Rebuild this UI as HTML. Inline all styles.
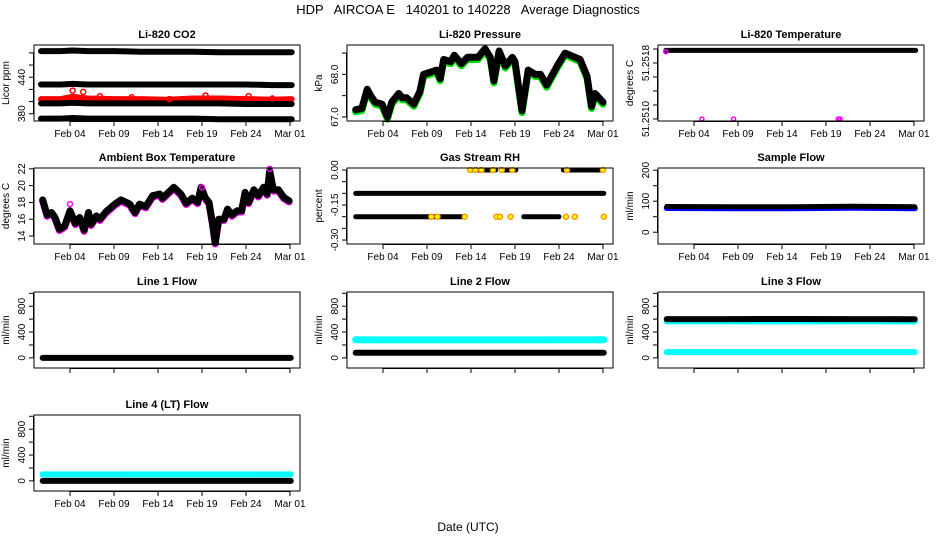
<!DOCTYPE html>
<html><head><meta charset="utf-8">
<style>
html,body{margin:0;padding:0;background:#fff;}
svg{display:block;font-family:"Liberation Sans",sans-serif;}
</style></head>
<body>
<svg id="chart" width="936" height="540" viewBox="0 0 936 540" xmlns="http://www.w3.org/2000/svg">
<text x="468" y="14" text-anchor="middle" font-size="13" style="white-space:pre" xml:space="preserve">HDP   AIRCOA E   140201 to 140228   Average Diagnostics</text>
<text x="468" y="531" text-anchor="middle" font-size="12">Date (UTC)</text>
</svg>
<script>
// ---- data ----
const xTickDays = [4, 9, 14, 19, 24, 29];
const xTickLabels = ["Feb 04", "Feb 09", "Feb 14", "Feb 19", "Feb 24", "Mar 01"];

const co2Days = [0.7, 3, 4.3, 6, 9, 12, 15, 18, 21, 24, 27, 29.2];
const co2Top = [483, 483, 484, 483, 483, 482, 482, 482, 481, 481, 481, 481];
const co2Mid = [428, 428, 429, 428, 428, 428, 428, 428, 428, 428, 427, 427];
const co2Low = [397, 397, 398, 397, 397, 397, 397, 397, 397, 396, 396, 396];
const co2Bot = [372, 372, 373, 372, 372, 372, 372, 372, 371, 371, 371, 371];
const co2Red = [404, 404, 408, 405, 404, 404, 403, 405, 405, 404, 403, 404];
const co2RedPtDays = [4.3, 5.5, 7.4, 11, 15.3, 19.4, 24.3, 27];
const co2RedPtVals = [418, 416, 409, 407, 404, 410, 409, 405];

const presDays = [0.9,1.6,2,2.2,2.6,3.1,3.9,4.5,5,5.8,6.2,6.7,7.5,8.2,8.6,10.1,10.5,10.9,11.7,12.1,12.9,13.6,14.8,15.6,16.2,16.6,17.2,17.9,18.7,19,19.8,20.5,21.3,21.9,22.6,23.8,24.7,26.4,27.2,27.7,28.1,29];
const presVals = [67.17,67.2,67.5,67.65,67.5,67.35,67.3,67.0,67.35,67.55,67.45,67.45,67.3,67.6,68.0,68.1,67.9,68.35,68.3,68.45,68.25,68.4,68.4,68.6,68.4,67.85,68.55,68.2,68.4,68.3,67.15,68.1,68.0,68.0,67.75,68.2,68.5,68.35,67.95,67.25,67.55,67.35];

const tempDays = [0.8, 29.2];
const tempVals = [51.25198, 51.25198];
const tempPtDays = [0.8, 4.9, 8.5, 20.4, 20.6];
const tempPtVals = [51.25196, 51.2510, 51.2510, 51.2510, 51.2510];

const ambDays = [0.9,1.4,1.9,2.3,2.8,3.4,4.0,4.6,5.1,5.6,6.1,6.4,7.0,7.4,8.1,9.1,9.8,10.8,11.4,11.9,12.6,13.4,14.2,14.5,15.3,15.8,16.6,17.2,17.9,18.5,18.9,19.4,19.8,20.2,20.5,20.9,21.5,21.9,22.4,23.0,23.5,23.9,24.3,24.9,25.4,26.0,26.4,26.7,27.1,27.7,28.3,28.9];
const ambVals = [18.3,16.5,16.8,16.2,14.8,15.2,17.0,15.5,16.2,14.7,16.8,15.4,16.4,16.0,16.9,17.8,18.3,17.8,16.8,17.8,17.5,18.8,19.0,18.5,19.3,19.8,19.0,17.9,18.5,18.0,19.8,18.5,18.0,15.5,13.2,16.0,16.0,17.2,16.5,17.0,17.0,19.2,18.0,19.5,18.8,19.8,19.0,21.8,19.5,19.5,18.6,18.2];
const ambPtDays = [4.0, 19.0, 26.7];
const ambPtVals = [17.8, 19.8, 22.0];

const rhFullStart = [0.9];
const rhFullEnd = [29.1];
const rhFullVal = [-0.1];
const rhLowStart = [0.9, 20.0];
const rhLowEnd = [13.1, 24.0];
const rhZeroStart = [14.0, 17.8, 24.5];
const rhZeroEnd = [16.8, 19.1, 29.0];
const rhPtDays = [13.9, 14.5, 15.2, 16.5, 17.5, 18.7, 24.9, 29.0, 9.5, 10.2, 13.3, 16.9, 17.3, 18.5, 24.8, 25.8, 29.1];
const rhPtVals = [0, 0, 0, 0, 0, 0, 0, 0, -0.2, -0.2, -0.2, -0.2, -0.2, -0.2, -0.2, -0.2, -0.2];

const flowDays = [0.9, 8, 15, 22, 29.1];
const sampleBlack = [83, 82, 82, 84, 82];
const sampleBlue = [78, 77, 77, 79, 77];
const line1Black = [0, 0, 0, 0, 0];
const line2Cyan = [280, 278, 278, 278, 280];
const line2Black = [80, 80, 80, 80, 80];
const line3Black = [600, 600, 602, 600, 598];
const line3CyanHi = [565, 565, 565, 565, 565];
const line3CyanLo = [90, 90, 90, 90, 90];
const line4Cyan = [100, 100, 100, 100, 100];
const line4Black = [0, 0, 0, 0, 0];

// ---- layout ----
const NS = "http://www.w3.org/2000/svg";
const svg = document.getElementById("chart");
const colLeft = [34, 347, 658];
const rowTop = [45, 168, 292, 415];
const W = 266, H = 76;
const D0 = -0.09, D1 = 30.14;

function mk(tag, attrs, parent) {
  const e = document.createElementNS(NS, tag);
  for (const k in attrs) e.setAttribute(k, attrs[k]);
  (parent || svg).appendChild(e);
  return e;
}

function panel(col, row, title, ylab, y0, y1, yTicks, yLabels, name) {
  const L = colLeft[col], T = rowTop[row];
  const g = mk("g", {});
  
  
  const xs = d => L + (d - D0) / (D1 - D0) * W;
  const ys = v => T + H - (v - y0) / (y1 - y0) * H;
  const t = mk("text", {x: L + W / 2, y: T - 7, "text-anchor": "middle", "font-size": 11, "font-weight": "bold"}, g);
  t.textContent = title;
  
  
  const yl = mk("text", {x: 0, y: 0, "text-anchor": "middle", "font-size": 10, transform: `translate(${L - 25},${T + H / 2}) rotate(-90)`}, g);
  yl.textContent = ylab;
  
  
  const plot = mk("g", {}, g);
  
  
  const box = mk("rect", {x: L, y: T, width: W, height: H, fill: "none", stroke: "#000", "stroke-width": 1}, g);
  
  
  const yt = yTicks.map(ys);
  mk("line", {x1: L - 0.5, x2: L - 0.5, y1: Math.min(...yt), y2: Math.max(...yt), stroke: "#000"}, g);
  yTicks.forEach((v, i) => {
    const y = ys(v);
    mk("line", {x1: L - 5, x2: L, y1: y, y2: y, stroke: "#000"}, g);
    if (yLabels[i] !== "") {
      const tl = mk("text", {x: 0, y: 0, "text-anchor": "middle", "font-size": 10, transform: `translate(${L - 9},${y}) rotate(-90)`}, g);
      tl.textContent = yLabels[i];
      
      
    }
  });
  mk("line", {x1: xs(xTickDays[0]), x2: xs(xTickDays[xTickDays.length - 1]), y1: T + H + 0.5, y2: T + H + 0.5, stroke: "#000"}, g);
  xTickDays.forEach((d, i) => {
    const x = xs(d);
    mk("line", {x1: x, x2: x, y1: T + H, y2: T + H + 5, stroke: "#000"}, g);
    if (row !== 2) {
      const tl = mk("text", {x: x, y: T + H + 16, "text-anchor": "middle", "font-size": 10}, g);
      tl.textContent = xTickLabels[i];
      
      
    }
  });
  return {xs, ys, plot};
}

function band(p, days, vals, color, w, nm) {
  const pts = days.map((d, i) => p.xs(d).toFixed(1) + "," + p.ys(vals[i]).toFixed(1)).join(" ");
  const e = mk("polyline", {points: pts, fill: "none", stroke: color, "stroke-width": w, "stroke-linejoin": "round", "stroke-linecap": "round"}, p.plot);
  
  
}
function pts(p, days, vals, color, r, nm, fill) {
  days.forEach((d, i) => {
    const c = mk("circle", {cx: p.xs(d), cy: p.ys(vals[i]), r: r, fill: fill || "none", stroke: color, "stroke-width": 1.5}, p.plot);
    
    
  });
}
function segs(p, starts, ends, v, color, w, nm) {
  starts.forEach((s, i) => {
    const e = mk("line", {x1: p.xs(s), x2: p.xs(ends[i]), y1: p.ys(v), y2: p.ys(v), stroke: color, "stroke-width": w, "stroke-linecap": "round"}, p.plot);
    
    
  });
}

let p = panel(0, 0, "Li-820 CO2", "Licor ppm", 368, 493, [380, 400, 420, 440, 460, 480], ["380", "", "", "440", "", ""], "co2");
band(p, co2Days, co2Top, "#000", 6, "co2-band-high");
band(p, co2Days, co2Mid, "#000", 6, "co2-band-mid");
band(p, co2Days, co2Red, "#f00", 6, "co2-red-series");
band(p, co2Days, co2Low, "#000", 6, "co2-band-low");
band(p, co2Days, co2Bot, "#000", 6, "co2-band-bottom");
pts(p, co2RedPtDays, co2RedPtVals, "#f00", 2.5, "co2-red-point");

p = panel(1, 0, "Li-820 Pressure", "kPa", 66.905, 68.69, [67.0, 67.5, 68.0, 68.5], ["67.0", "", "68.0", ""], "pressure");
band(p, presDays, presVals.map(v => v - 0.05), "#0d0", 7, "pressure-green-series");
band(p, presDays, presVals, "#000", 7, "pressure-black-series");

p = panel(2, 0, "Li-820 Temperature", "degrees C", 51.250971, 51.252057, [51.2510, 51.2512, 51.2514, 51.2516, 51.2518, 51.2520], ["51.2510", "", "", "", "51.2518", ""], "temperature");
band(p, tempDays, tempVals, "#000", 5, "temperature-series");
pts(p, tempPtDays, tempPtVals, "#f0f", 2, "temperature-magenta-point");

p = panel(0, 1, "Ambient Box Temperature", "degrees C", 13.05, 22.1, [14, 16, 18, 20, 22], ["14", "16", "18", "20", "22"], "ambient");
band(p, ambDays, ambVals.map(v => v - 0.15), "#f0f", 7, "ambient-magenta-series");
band(p, ambDays, ambVals, "#000", 7, "ambient-black-series");
pts(p, ambPtDays, ambPtVals, "#f0f", 2.5, "ambient-magenta-point");

p = panel(1, 1, "Gas Stream RH", "percent", -0.317, 0.0086, [0, -0.05, -0.1, -0.15, -0.2, -0.25, -0.3], ["0.00", "", "", "-0.15", "", "", "-0.30"], "rh");
segs(p, rhFullStart, rhFullEnd, rhFullVal[0], "#000", 5, "rh-band-mid");
segs(p, rhLowStart, rhLowEnd, -0.2, "#000", 5, "rh-band-low");
segs(p, rhZeroStart, rhZeroEnd, 0, "#000", 5, "rh-band-zero");
pts(p, rhPtDays, rhPtVals, "#f90", 2.5, "rh-orange-point", "#ff0");

p = panel(2, 1, "Sample Flow", "ml/min", -38, 207, [0, 50, 100, 150, 200], ["0", "", "100", "", "200"], "sample-flow");
band(p, flowDays, sampleBlue, "#00f", 6, "sample-flow-blue-series");
band(p, flowDays, sampleBlack, "#000", 5, "sample-flow-black-series");

const flowTicks = [0, 200, 400, 600, 800, 1000];
const flowLabels = ["0", "", "400", "", "800", ""];
p = panel(0, 2, "Line 1 Flow", "ml/min", -157, 1020, flowTicks, flowLabels, "line1-flow");
band(p, flowDays, line1Black, "#000", 6, "line1-black-series");
p = panel(1, 2, "Line 2 Flow", "ml/min", -157, 1020, flowTicks, flowLabels, "line2-flow");
band(p, flowDays, line2Cyan, "#0ff", 7, "line2-cyan-series");
band(p, flowDays, line2Black, "#000", 6, "line2-black-series");
p = panel(2, 2, "Line 3 Flow", "ml/min", -157, 1020, flowTicks, flowLabels, "line3-flow");
band(p, flowDays, line3CyanHi, "#0ff", 6, "line3-cyan-high-series");
band(p, flowDays, line3Black, "#000", 6, "line3-black-series");
band(p, flowDays, line3CyanLo, "#0ff", 6, "line3-cyan-low-series");
p = panel(0, 3, "Line 4 (LT) Flow", "ml/min", -157, 1020, flowTicks, flowLabels, "line4-flow");
band(p, flowDays, line4Cyan, "#0ff", 6, "line4-cyan-series");
band(p, flowDays, line4Black, "#000", 6, "line4-black-series");
</script>
</body></html>
